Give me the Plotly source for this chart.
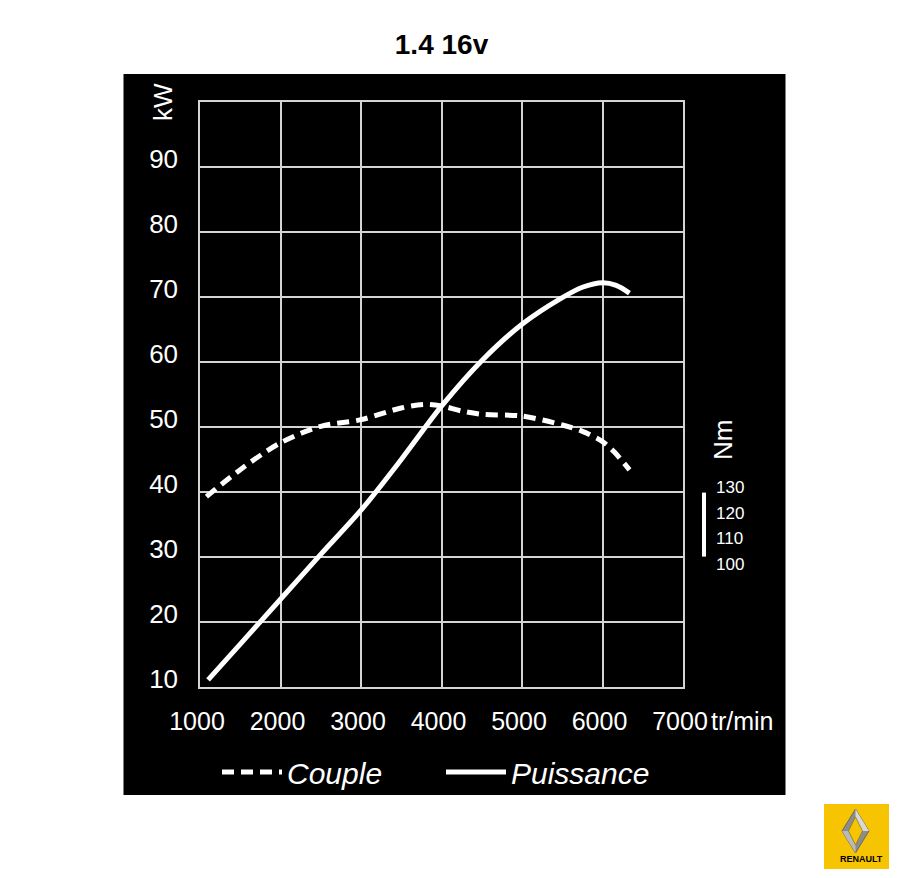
import plotly.graph_objects as go

# ---------------- data ----------------
title_text = "1.4 16v"

rpm_power = [1100, 1500, 2000, 2500, 3000, 3500, 4000, 4500, 5000, 5500, 5750, 6000, 6170, 6335]
power_kw = [11.1, 16.6, 23.5, 30.4, 37.2, 45.0, 53.2, 60.2, 65.8, 69.9, 71.5, 72.2, 71.8, 70.6]

rpm_torque = [1080, 1500, 2000, 2500, 3000, 3500, 3800, 4000, 4250, 4500, 5000, 5500, 5750, 6000, 6150, 6335]
torque_nm = [126.4, 137.0, 147.5, 154.0, 156.6, 161.2, 162.6, 162.0, 160.0, 158.7, 158.0, 154.5, 152.0, 148.0, 143.8, 136.9]

x_ticks = [1000, 2000, 3000, 4000, 5000, 6000, 7000]
kw_ticks = [10, 20, 30, 40, 50, 60, 70, 80, 90]
nm_ticks = [100, 110, 120, 130]

series_names = ["Couple", "Puissance"]

# ---------------- layout geometry ----------------
W, H = 900, 878
L, R, T, B = 200, 217, 102, 191
PW, PH = W - L - R, H - T - B


def px(x):
    return (x - L) / PW


def py(y):
    return (H - B - y) / PH


SANS = "Liberation Sans, Arial, Helvetica, sans-serif"
GRID = "#d4d4d4"

fig = go.Figure()
fig.add_trace(go.Scatter(
    x=rpm_torque, y=torque_nm, yaxis="y2", name=series_names[0],
    mode="lines", line=dict(color="white", width=5, dash="12px,7px", shape="spline", smoothing=0.9),
))
fig.add_trace(go.Scatter(
    x=rpm_power, y=power_kw, name=series_names[1],
    mode="lines", line=dict(color="white", width=5, shape="spline", smoothing=0.9),
))

shapes = [
    # black panel
    dict(type="rect", xref="paper", yref="paper", layer="below",
         x0=px(123.5), x1=px(785.5), y0=py(795), y1=py(74),
         fillcolor="black", line=dict(width=0)),
    # Nm scale bar
    dict(type="line", xref="paper", yref="y2", x0=px(704), x1=px(704), y0=102.9, y1=128.0,
         line=dict(color="white", width=4)),
    # Renault logo: yellow square
    dict(type="rect", xref="paper", yref="paper", x0=px(824), x1=px(889), y0=py(869), y1=py(804),
         fillcolor="#f6c400", line=dict(width=0)),
]

# Renault diamond (simplified losange)
cx, cy = 855.5, 831
outer = [(cx, 809), (cx + 13.5, cy), (cx, 853), (cx - 13.5, cy)]
inner = [(cx, 817), (cx + 7, cy), (cx, 845), (cx - 7, cy)]


def path(pts):
    return "M " + " L ".join(f"{px(a):.5f},{py(b):.5f}" for a, b in pts) + " Z"


shapes.append(dict(type="path", xref="paper", yref="paper", path=path(outer),
                   fillcolor="#8c8c8c", line=dict(color="#5a5a5a", width=0.8)))
shapes.append(dict(type="path", xref="paper", yref="paper",
                   path=path([(cx, 809), (cx + 13.5, cy), (cx + 7, cy), (cx, 817)]),
                   fillcolor="#d8d8d8", line=dict(width=0)))
shapes.append(dict(type="path", xref="paper", yref="paper",
                   path=path([(cx - 13.5, cy), (cx, 853), (cx, 845), (cx - 7, cy)]),
                   fillcolor="#b9b9b9", line=dict(width=0)))
shapes.append(dict(type="path", xref="paper", yref="paper", path=path(inner),
                   fillcolor="#f6c400", line=dict(color="#7a6a20", width=0.6)))

annotations = [
    dict(text="kW", xref="paper", yref="paper", x=px(163), y=py(102), textangle=-90,
         showarrow=False, font=dict(family=SANS, size=26, color="white"),
         xanchor="center", yanchor="middle"),
    dict(text="Nm", xref="paper", yref="paper", x=px(723), y=py(440), textangle=-90,
         showarrow=False, font=dict(family=SANS, size=26, color="white"),
         xanchor="center", yanchor="middle"),
    dict(text="tr/min", xref="paper", yref="paper", x=px(709), y=py(721),
         showarrow=False, font=dict(family=SANS, size=25, color="white"),
         xanchor="left", yanchor="middle"),
    dict(text="<b>RENAULT</b>", xref="paper", yref="paper", x=px(861), y=py(859),
         showarrow=False, font=dict(family=SANS, size=9, color="black"),
         xanchor="center", yanchor="middle"),
]

fig.update_layout(
    width=W, height=H,
    margin=dict(l=L, r=R, t=T, b=B, autoexpand=False),
    paper_bgcolor="white", plot_bgcolor="black",
    title=dict(text=f"<b>{title_text}</b>", x=0.5, xref="paper", y=1 - 44 / H, yanchor="middle",
               font=dict(family=SANS, size=28, color="black")),
    xaxis=dict(range=[1000, 7000], tickvals=x_ticks, showgrid=True, gridcolor=GRID, gridwidth=1.5,
               zeroline=False, showline=True, mirror=True, linecolor=GRID, linewidth=1.5,
               ticks="", tickfont=dict(family=SANS, size=25, color="white"),
               ticklabelstandoff=11, ticklabelshift=-3, fixedrange=True),
    yaxis=dict(range=[10, 100], tickvals=kw_ticks, showgrid=True, gridcolor=GRID, gridwidth=1.5,
               zeroline=False, showline=True, mirror=True, linecolor=GRID, linewidth=1.5,
               ticks="", tickfont=dict(family=SANS, size=26, color="white"),
               ticklabelstandoff=15, ticklabelshift=-8, fixedrange=True),
    yaxis2=dict(overlaying="y", side="right", range=[51.76, 281.18], tickvals=nm_ticks,
                showgrid=False, zeroline=False, showline=False, ticks="",
                tickfont=dict(family=SANS, size=17, color="white"),
                ticklabelstandoff=32, fixedrange=True),
    legend=dict(orientation="h", x=px(217), y=py(772), xanchor="left", yanchor="middle",
                bgcolor="rgba(0,0,0,0)", itemwidth=60, entrywidth=149, entrywidthmode="pixels",
                font=dict(family=SANS, size=30, color="white", style="italic")),
    shapes=shapes,
    annotations=annotations,
    showlegend=True,
)

fig.write_html("out.html")
